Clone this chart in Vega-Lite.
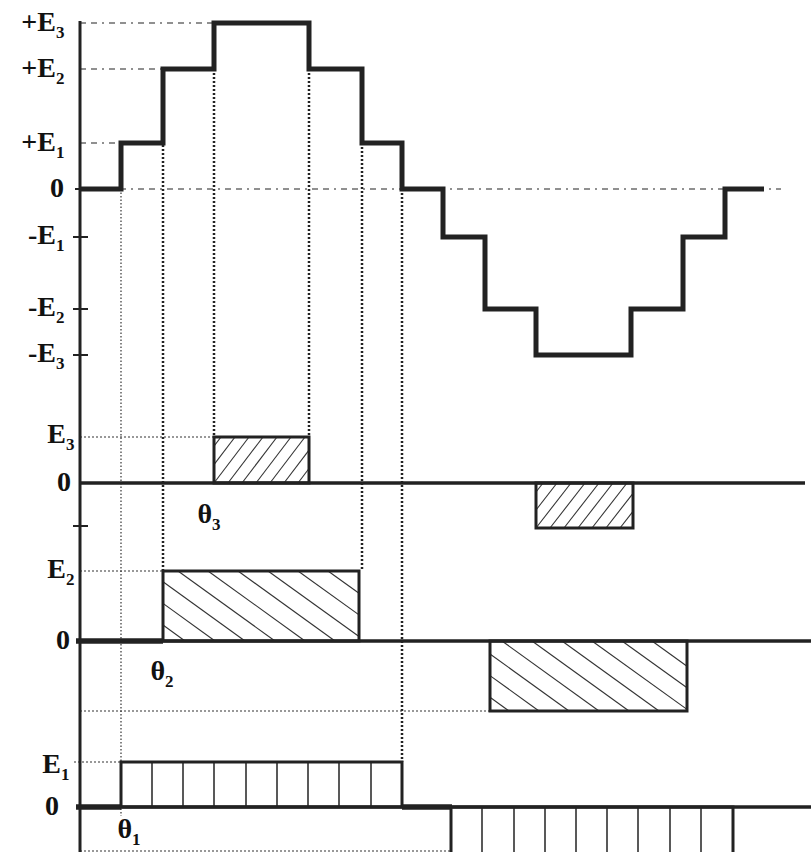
{
  "$schema": "https://vega.github.io/schema/vega-lite/v6.json",
  "width": 811,
  "height": 852,
  "autosize": "none",
  "padding": 0,
  "background": "white",
  "config": {"view": {"stroke": null}},
  "datasets": {
    "axis": [{"x": 80, "y": 21, "y2": 852}],
    "ticks": [
      {"x": 73, "x2": 88, "y": 237},
      {"x": 73, "x2": 88, "y": 309},
      {"x": 73, "x2": 88, "y": 355},
      {"x": 73, "x2": 88, "y": 526},
      {"x": 75, "x2": 80, "y": 189}
    ],
    "wave": [
      {"x": 80, "y": 189}, {"x": 121, "y": 143}, {"x": 163, "y": 69}, {"x": 214, "y": 23},
      {"x": 309, "y": 69}, {"x": 362, "y": 143}, {"x": 402, "y": 189}, {"x": 443, "y": 237},
      {"x": 485, "y": 309}, {"x": 536, "y": 355}, {"x": 631, "y": 309}, {"x": 683, "y": 237},
      {"x": 725, "y": 189}, {"x": 764, "y": 189}
    ],
    "dashdot": [
      {"x": 80, "x2": 214, "y": 23},
      {"x": 80, "x2": 163, "y": 69},
      {"x": 80, "x2": 121, "y": 143},
      {"x": 80, "x2": 781, "y": 189}
    ],
    "vdots": [
      {"x": 163, "y": 69, "y2": 571},
      {"x": 214, "y": 69, "y2": 437},
      {"x": 309, "y": 69, "y2": 437},
      {"x": 362, "y": 143, "y2": 571},
      {"x": 402, "y": 189, "y2": 762}
    ],
    "vthin": [{"x": 121, "y": 189, "y2": 816}],
    "hdots": [
      {"x": 80, "x2": 214, "y": 437},
      {"x": 80, "x2": 163, "y": 571},
      {"x": 80, "x2": 490, "y": 711},
      {"x": 74, "x2": 121, "y": 762},
      {"x": 80, "x2": 451, "y": 851}
    ],
    "baselines": [
      {"x": 80, "x2": 805, "y": 483},
      {"x": 76, "x2": 811, "y": 641},
      {"x": 76, "x2": 811, "y": 807}
    ],
    "thick": [
      {"x": 76, "x2": 163, "y": 641},
      {"x": 76, "x2": 121, "y": 807},
      {"x": 402, "x2": 452, "y": 807}
    ],
    "rects": [
      {"x": 214, "x2": 309, "y": 437, "y2": 483},
      {"x": 536, "x2": 633, "y": 483, "y2": 528},
      {"x": 163, "x2": 359, "y": 571, "y2": 641},
      {"x": 490, "x2": 687, "y": 641, "y2": 711},
      {"x": 121, "x2": 402, "y": 762, "y2": 807},
      {"x": 451, "x2": 733, "y": 807, "y2": 862}
    ],
    "hatch": [
      {"x": 214, "y": 446.2, "x2": 221, "y2": 437},
      {"x": 214, "y": 464.6, "x2": 235, "y2": 437},
      {"x": 214, "y": 483, "x2": 249, "y2": 437},
      {"x": 228, "y": 483, "x2": 263, "y2": 437},
      {"x": 242, "y": 483, "x2": 277, "y2": 437},
      {"x": 256, "y": 483, "x2": 291, "y2": 437},
      {"x": 270, "y": 483, "x2": 305, "y2": 437},
      {"x": 284, "y": 483, "x2": 309, "y2": 450.1},
      {"x": 298, "y": 483, "x2": 309, "y2": 468.5},
      {"x": 536, "y": 492, "x2": 543, "y2": 483},
      {"x": 536, "y": 510, "x2": 557, "y2": 483},
      {"x": 536, "y": 528, "x2": 571, "y2": 483},
      {"x": 550, "y": 528, "x2": 585, "y2": 483},
      {"x": 564, "y": 528, "x2": 599, "y2": 483},
      {"x": 578, "y": 528, "x2": 613, "y2": 483},
      {"x": 592, "y": 528, "x2": 627, "y2": 483},
      {"x": 606, "y": 528, "x2": 633, "y2": 493.3},
      {"x": 620, "y": 528, "x2": 633, "y2": 511.3},
      {"x": 163, "y": 625, "x2": 185, "y2": 641},
      {"x": 163, "y": 603.4, "x2": 215, "y2": 641},
      {"x": 163, "y": 581.8, "x2": 245, "y2": 641},
      {"x": 178, "y": 571, "x2": 275, "y2": 641},
      {"x": 208, "y": 571, "x2": 305, "y2": 641},
      {"x": 238, "y": 571, "x2": 335, "y2": 641},
      {"x": 268, "y": 571, "x2": 359, "y2": 636.5},
      {"x": 298, "y": 571, "x2": 359, "y2": 614.9},
      {"x": 328, "y": 571, "x2": 359, "y2": 593.3},
      {"x": 490, "y": 697.2, "x2": 509, "y2": 711},
      {"x": 490, "y": 675.6, "x2": 539, "y2": 711},
      {"x": 490, "y": 654, "x2": 569, "y2": 711},
      {"x": 502, "y": 641, "x2": 599, "y2": 711},
      {"x": 532, "y": 641, "x2": 629, "y2": 711},
      {"x": 562, "y": 641, "x2": 659, "y2": 711},
      {"x": 592, "y": 641, "x2": 687, "y2": 709.4},
      {"x": 622, "y": 641, "x2": 687, "y2": 687.8},
      {"x": 652, "y": 641, "x2": 687, "y2": 666.2}
    ],
    "grid": [
      {"x": 152, "y": 762, "y2": 807}, {"x": 183, "y": 762, "y2": 807}, {"x": 214, "y": 762, "y2": 807},
      {"x": 246, "y": 762, "y2": 807}, {"x": 277, "y": 762, "y2": 807}, {"x": 308, "y": 762, "y2": 807},
      {"x": 339, "y": 762, "y2": 807}, {"x": 371, "y": 762, "y2": 807},
      {"x": 482, "y": 807, "y2": 862}, {"x": 514, "y": 807, "y2": 862}, {"x": 545, "y": 807, "y2": 862},
      {"x": 576, "y": 807, "y2": 862}, {"x": 607, "y": 807, "y2": 862}, {"x": 638, "y": 807, "y2": 862},
      {"x": 670, "y": 807, "y2": 862}, {"x": 701, "y": 807, "y2": 862}
    ],
    "labels": [
      {"x": 56, "y": 23, "t": "+E", "s": "3"},
      {"x": 56, "y": 69, "t": "+E", "s": "2"},
      {"x": 56, "y": 143, "t": "+E", "s": "1"},
      {"x": 64, "y": 189, "t": "0", "s": ""},
      {"x": 56, "y": 236, "t": "-E", "s": "1"},
      {"x": 56, "y": 308, "t": "-E", "s": "2"},
      {"x": 56, "y": 354, "t": "-E", "s": "3"},
      {"x": 66, "y": 435, "t": "E", "s": "3"},
      {"x": 71, "y": 483, "t": "0", "s": ""},
      {"x": 66, "y": 570, "t": "E", "s": "2"},
      {"x": 70, "y": 641, "t": "0", "s": ""},
      {"x": 61, "y": 765, "t": "E", "s": "1"},
      {"x": 59, "y": 807, "t": "0", "s": ""},
      {"x": 212, "y": 515, "t": "θ", "s": "3"},
      {"x": 165, "y": 672, "t": "θ", "s": "2"},
      {"x": 132, "y": 830, "t": "θ", "s": "1"}
    ]
  },
  "encoding": {
    "x": {"field": "x", "type": "quantitative", "axis": null, "scale": {"domain": [0, 811], "nice": false, "zero": false}},
    "y": {"field": "y", "type": "quantitative", "axis": null, "scale": {"domain": [0, 852], "nice": false, "zero": false, "reverse": true}}
  },
  "layer": [
    {
      "data": {"name": "dashdot"},
      "mark": {"type": "rule", "color": "#222", "strokeWidth": 1.2, "strokeDash": [6, 5, 6, 5, 2, 5]},
      "encoding": {"x2": {"field": "x2"}}
    },
    {
      "data": {"name": "vdots"},
      "mark": {"type": "rule", "color": "#222", "strokeWidth": 2.5, "strokeDash": [2, 2]},
      "encoding": {"y2": {"field": "y2"}}
    },
    {
      "data": {"name": "vthin"},
      "mark": {"type": "rule", "color": "#333", "strokeWidth": 1.2, "strokeDash": [1.5, 2]},
      "encoding": {"y2": {"field": "y2"}}
    },
    {
      "data": {"name": "hdots"},
      "mark": {"type": "rule", "color": "#333", "strokeWidth": 1.2, "strokeDash": [2, 2]},
      "encoding": {"x2": {"field": "x2"}}
    },
    {
      "data": {"name": "hatch"},
      "mark": {"type": "rule", "color": "#333", "strokeWidth": 1.1},
      "encoding": {"x2": {"field": "x2"}, "y2": {"field": "y2"}}
    },
    {
      "data": {"name": "grid"},
      "mark": {"type": "rule", "color": "#222", "strokeWidth": 1.5},
      "encoding": {"y2": {"field": "y2"}}
    },
    {
      "data": {"name": "rects"},
      "mark": {"type": "rect", "fill": null, "fillOpacity": 0, "stroke": "#222", "strokeWidth": 3},
      "encoding": {"x2": {"field": "x2"}, "y2": {"field": "y2"}}
    },
    {
      "data": {"name": "baselines"},
      "mark": {"type": "rule", "color": "#222", "strokeWidth": 3.5},
      "encoding": {"x2": {"field": "x2"}}
    },
    {
      "data": {"name": "thick"},
      "mark": {"type": "rule", "color": "#222", "strokeWidth": 5.5},
      "encoding": {"x2": {"field": "x2"}}
    },
    {
      "data": {"name": "axis"},
      "mark": {"type": "rule", "color": "#222", "strokeWidth": 3},
      "encoding": {"y2": {"field": "y2"}}
    },
    {
      "data": {"name": "ticks"},
      "mark": {"type": "rule", "color": "#222", "strokeWidth": 2},
      "encoding": {"x2": {"field": "x2"}}
    },
    {
      "data": {"name": "wave"},
      "mark": {"type": "line", "color": "#222", "strokeWidth": 5, "interpolate": "step-after", "strokeJoin": "miter"},
      "encoding": {}
    },
    {
      "data": {"name": "labels"},
      "mark": {"type": "text", "align": "right", "baseline": "middle", "font": "Liberation Serif", "fontWeight": "bold", "fontSize": 28, "color": "#111"},
      "encoding": {"text": {"field": "t"}}
    },
    {
      "data": {"name": "labels"},
      "mark": {"type": "text", "align": "left", "baseline": "middle", "font": "Liberation Serif", "fontWeight": "bold", "fontSize": 17, "color": "#111", "dy": 10},
      "encoding": {"text": {"field": "s"}}
    }
  ]
}
